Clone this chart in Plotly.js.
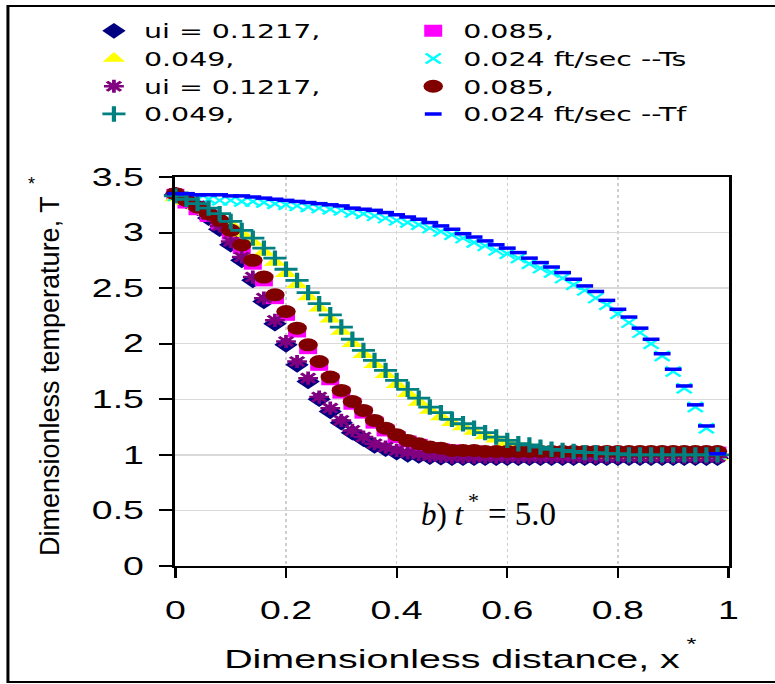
<!DOCTYPE html>
<html><head><meta charset="utf-8">
<script src="https://cdn.plot.ly/plotly-3.0.1.min.js"></script>
<style>
html,body{margin:0;padding:0;background:#fff;overflow:hidden;}
#wrap{position:relative;width:775px;height:684px;overflow:hidden;background:#fff;}
#main{position:absolute;left:0;top:0;width:517px;height:684px;transform:scaleX(1.499033);transform-origin:0 0;}
#over{position:absolute;left:0;top:0;width:775px;height:684px;pointer-events:none;}
</style></head>
<body><div id="wrap"><div id="main"></div><div id="over"></div></div>
<script>
// Dimensionless distance x*
const xStar = [0,0.02,0.04,0.06,0.08,0.10,0.12,0.14,0.16,0.18,
  0.20,0.22,0.24,0.26,0.28,0.30,0.32,0.34,0.36,0.38,
  0.40,0.42,0.44,0.46,0.48,0.50,0.52,0.54,0.56,0.58,
  0.60,0.62,0.64,0.66,0.68,0.70,0.72,0.74,0.76,0.78,
  0.80,0.82,0.84,0.86,0.88,0.90,0.92,0.94,0.96,0.98];

// Solid temperature Ts
const Ts_1217 = [3.34,3.28,3.22,3.13,3.03,2.89,2.75,2.57,2.38,2.18,
  1.99,1.81,1.66,1.50,1.39,1.29,1.20,1.14,1.08,1.05,
  1.02,1.00,0.99,0.98,0.975,0.97,0.97,0.97,0.97,0.97,
  0.97,0.97,0.97,0.97,0.97,0.97,0.97,0.97,0.97,0.97,
  0.97,0.97,0.97,0.97,0.97,0.97,0.97,0.97,0.97,0.97];
const Ts_085 = [3.34,3.27,3.21,3.15,3.08,2.99,2.86,2.72,2.57,2.41,
  2.26,2.11,1.96,1.81,1.68,1.56,1.46,1.38,1.29,1.22,
  1.16,1.12,1.09,1.06,1.05,1.04,1.03,1.03,1.02,1.02,
  1.02,1.02,1.02,1.02,1.02,1.02,1.02,1.02,1.02,1.02,
  1.02,1.02,1.02,1.02,1.02,1.02,1.02,1.02,1.02,1.02];
const Ts_049 = [3.31,3.28,3.24,3.19,3.14,3.07,2.99,2.91,2.82,2.73,
  2.63,2.53,2.42,2.32,2.22,2.11,2.00,1.90,1.81,1.72,
  1.63,1.55,1.47,1.40,1.34,1.29,1.25,1.21,1.17,1.14,
  1.11,1.08,1.07,1.05,1.03,1.02,1.01,1.00,1.00,0.99,
  0.99,0.98,0.98,0.98,0.98,0.98,0.98,0.98,0.98,0.98];
const Ts_024 = [3.33,3.31,3.30,3.30,3.29,3.29,3.28,3.28,3.27,3.26,
  3.25,3.24,3.23,3.22,3.21,3.20,3.18,3.17,3.15,3.13,
  3.11,3.09,3.07,3.04,3.01,2.98,2.95,2.91,2.88,2.84,
  2.81,2.77,2.72,2.68,2.64,2.59,2.53,2.48,2.41,2.35,
  2.27,2.19,2.10,2.00,1.89,1.75,1.60,1.43,1.24,1.00];

// Fluid temperature Tf
const Tf_1217 = [3.35,3.30,3.24,3.16,3.06,2.92,2.78,2.60,2.41,2.21,
  2.02,1.84,1.69,1.52,1.42,1.31,1.22,1.16,1.10,1.07,
  1.04,1.02,1.005,0.99,0.985,0.98,0.98,0.98,0.98,0.98,
  0.98,0.98,0.98,0.98,0.98,0.98,0.98,0.98,0.98,0.98,
  0.98,0.98,0.98,0.98,0.98,0.98,0.98,0.98,0.98,0.98];
const Tf_085 = [3.35,3.29,3.23,3.17,3.11,3.02,2.89,2.75,2.60,2.44,
  2.29,2.14,1.99,1.84,1.70,1.58,1.48,1.40,1.31,1.24,
  1.18,1.13,1.10,1.07,1.06,1.04,1.04,1.04,1.03,1.03,
  1.03,1.03,1.03,1.03,1.03,1.03,1.03,1.03,1.03,1.03,
  1.03,1.03,1.03,1.03,1.03,1.03,1.03,1.03,1.03,1.03];
const Tf_049 = [3.33,3.30,3.26,3.22,3.17,3.10,3.02,2.95,2.86,2.77,
  2.67,2.57,2.46,2.36,2.26,2.15,2.04,1.94,1.85,1.76,
  1.67,1.59,1.51,1.43,1.38,1.32,1.28,1.24,1.20,1.16,
  1.13,1.10,1.09,1.07,1.05,1.04,1.03,1.02,1.02,1.01,
  1.01,1.00,1.00,1.00,1.00,1.00,1.00,1.00,1.00,1.00];
const Tf_024 = [3.35,3.35,3.34,3.34,3.34,3.33,3.33,3.32,3.31,3.30,
  3.29,3.28,3.27,3.26,3.25,3.24,3.22,3.21,3.20,3.18,
  3.16,3.14,3.12,3.09,3.06,3.03,2.99,2.96,2.925,2.89,
  2.86,2.82,2.77,2.73,2.69,2.64,2.58,2.52,2.47,2.39,
  2.31,2.24,2.14,2.04,1.91,1.77,1.62,1.45,1.26,1.01];

const legendNames = ['ui = 0.1217,', '0.085,', '0.049,', '0.024 ft/sec --Ts',
                     'ui = 0.1217,', '0.085,', '0.049,', '0.024 ft/sec --Tf'];
const xTickVals = [0,0.2,0.4,0.6,0.8,1];
const yTickVals = [0,0.5,1,1.5,2,2.5,3,3.5];

const SANS = 'Liberation Sans, Arial, sans-serif';
const SERIF = 'Liberation Serif, Times New Roman, serif';

function tr(y, name, marker){
  return {x:xStar, y:y, name:name, type:'scatter', mode:'markers', cliponaxis:false, marker:marker};
}
const data = [
  tr(Ts_1217, legendNames[0], {symbol:'diamond', size:12, color:'#000080'}),
  tr(Ts_085,  legendNames[1], {symbol:'square', size:12, color:'#FF00FF'}),
  tr(Ts_049,  legendNames[2], {symbol:'triangle-up', size:13, color:'#FFFF00'}),
  tr(Ts_024,  legendNames[3], {symbol:'x-thin-open', size:10, color:'#00FFFF', line:{color:'#00FFFF', width:2}}),
  tr(Tf_1217, legendNames[4], {symbol:'asterisk-open', size:11, color:'#800080', line:{color:'#800080', width:2.5}}),
  tr(Tf_085,  legendNames[5], {symbol:'circle', size:13, color:'#800000'}),
  tr(Tf_049,  legendNames[6], {symbol:'cross-thin-open', size:11, color:'#008080', line:{color:'#008080', width:2.8}}),
  tr(Tf_024,  legendNames[7], {symbol:'line-ew-open', size:8, color:'#0000FF', line:{color:'#0000FF', width:3.5}})
];

const PW = 369, PH = 389; // plot area (unscaled)
const layout = {
  width:517, height:684,
  margin:{l:117, r:31, t:177, b:118},
  paper_bgcolor:'rgba(0,0,0,0)', plot_bgcolor:'#ffffff',
  font:{family:SANS, color:'#000'},
  showlegend:true,
  xaxis:{range:[0,1], tickvals:xTickVals, ticks:'outside', ticklen:10, tickwidth:1.5, tickcolor:'#000',
    showline:true, linecolor:'#000', linewidth:2, mirror:true,
    showgrid:true, gridcolor:'#cfcfcf', griddash:'dot', gridwidth:1, zeroline:false,
    tickfont:{size:25, family:SANS}, ticklabelstandoff:11,
    title:{text:'Dimensionless distance, x', font:{size:26.3, family:SANS}, standoff:27}},
  yaxis:{range:[0,3.5], tickvals:yTickVals, ticks:'outside', ticklen:9, tickwidth:2, tickcolor:'#000',
    showline:true, linecolor:'#000', linewidth:2, mirror:true,
    showgrid:true, gridcolor:'#d9d9d9', gridwidth:1.5, zeroline:false,
    tickfont:{size:25, family:SANS}, ticklabelstandoff:5},
  legend:{orientation:'h', x:(56-117)/PW, y:1+(177-12)/PH, xanchor:'left', yanchor:'top',
    entrywidth:168, entrywidthmode:'pixels', font:{size:19, family:'DejaVu Sans', color:'#000'},
    bgcolor:'rgba(0,0,0,0)', borderwidth:0},
  annotations:[
    {xref:'paper', yref:'paper', x:(692/1.499033-117)/PW, y:(566-644)/PH, xanchor:'center', yanchor:'middle',
     text:'*', showarrow:false, font:{family:SANS, size:17, color:'#000'}}
  ],
  shapes:[{type:'rect', xref:'paper', yref:'paper',
    x0:(5.3-117)/PW, x1:(540-117)/PW, y0:(566-682)/PH, y1:(566-6)/PH,
    line:{color:'#000', width:2}, fillcolor:'rgba(0,0,0,0)', layer:'above'}]
};
Plotly.newPlot('main', data, layout, {displayModeBar:false, staticPlot:true});

const overLayout = {
  width:775, height:684, margin:{l:0, r:0, t:0, b:0},
  paper_bgcolor:'rgba(0,0,0,0)', plot_bgcolor:'rgba(0,0,0,0)', showlegend:false,
  xaxis:{visible:false, range:[0,1]}, yaxis:{visible:false, range:[0,1]},
  annotations:[
    {xref:'paper', yref:'paper', x:50/775, y:1-376/684, xanchor:'center', yanchor:'middle',
     text:'Dimensionless temperature, T', textangle:-90, showarrow:false,
     font:{family:SANS, size:27, color:'#000'}},
    {xref:'paper', yref:'paper', x:31/775, y:1-184/684, xanchor:'center', yanchor:'middle',
     text:'*', showarrow:false, font:{family:SANS, size:18, color:'#000'}},
    {xref:'paper', yref:'paper', x:467/775, y:1-514/684, xanchor:'right', yanchor:'middle',
     text:'<i>b</i>)<i> t</i>', showarrow:false, font:{family:SERIF, size:31, color:'#000'}},
    {xref:'paper', yref:'paper', x:473/775, y:1-500/684, xanchor:'center', yanchor:'middle',
     text:'*', showarrow:false, font:{family:SERIF, size:22, color:'#000'}},
    {xref:'paper', yref:'paper', x:486/775, y:1-514/684, xanchor:'left', yanchor:'middle',
     text:'= 5.0', showarrow:false, font:{family:SERIF, size:33, color:'#000'}}
  ]
};
Plotly.newPlot('over', [], overLayout, {displayModeBar:false, staticPlot:true});
</script>
</body></html>
